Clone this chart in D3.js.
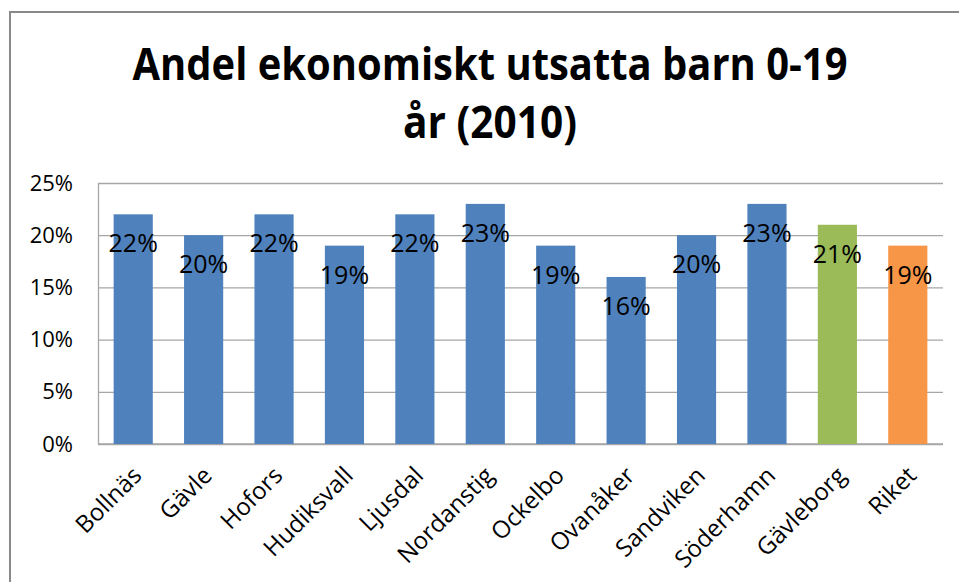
<!DOCTYPE html>
<html>
<head>
<meta charset="utf-8">
<script src="https://cdn.jsdelivr.net/npm/d3@7"></script>
<style>
  body { margin: 0; background: #fff; }
  text { font-family: "Open Sans", sans-serif; fill: #000; }
</style>
</head>
<body>
<div id="chart"></div>
<script>
//data
const categories = ["Bollnäs", "Gävle", "Hofors", "Hudiksvall", "Ljusdal", "Nordanstig",
  "Ockelbo", "Ovanåker", "Sandviken", "Söderhamn", "Gävleborg", "Riket"];
const values = [0.22, 0.20, 0.22, 0.19, 0.22, 0.23, 0.19, 0.16, 0.20, 0.23, 0.21, 0.19];
const groups = ["kommun", "kommun", "kommun", "kommun", "kommun", "kommun",
  "kommun", "kommun", "kommun", "kommun", "lan", "riket"];
const yTicks = [0, 0.05, 0.10, 0.15, 0.20, 0.25];
const titleLines = ["Andel ekonomiskt utsatta barn 0-19", "år (2010)"];

//size
const width = 959, height = 582;
const margin = { top: 183, right: 16, bottom: 138, left: 98 };
const innerWidth = width - margin.left - margin.right;
const innerHeight = height - margin.top - margin.bottom;

const color = d3.scaleOrdinal()
  .domain(["kommun", "lan", "riket"])
  .range(["#4f81bd", "#9bbb59", "#f79646"]);

//create element
const svg = d3.select("#chart").append("svg")
  .attr("width", width)
  .attr("height", height);

//frame
svg.append("rect")
  .attr("x", 10).attr("y", 12)
  .attr("width", 1000).attr("height", 1000)
  .attr("fill", "none")
  .attr("stroke", "#898989")
  .attr("stroke-width", 2);

//title
const title = svg.append("g").attr("class", "title");
title.selectAll("text")
  .data(titleLines)
  .join("text")
  .attr("x", 490)
  .attr("y", (d, i) => 80 + i * 58)
  .attr("text-anchor", "middle")
  .attr("font-family", "'Liberation Sans Narrow', 'Open Sans', sans-serif")
  .attr("font-weight", "bold")
  .attr("font-size", 44)
  .attr("textLength", (d, i) => (i === 0 ? 715 : 174))
  .attr("lengthAdjust", "spacingAndGlyphs")
  .text((d) => d);

//scales
const x = d3.scaleBand()
  .domain(categories)
  .range([0, innerWidth])
  .paddingInner(0.444)
  .paddingOuter(0.222);

const y = d3.scaleLinear()
  .domain([0, 0.25])
  .range([innerHeight, 0]);

const g = svg.append("g")
  .attr("transform", `translate(${margin.left},${margin.top})`);

//grid
g.append("g")
  .attr("class", "grid")
  .call(d3.axisLeft(y).tickValues(yTicks).tickSize(-innerWidth).tickFormat(""))
  .call((s) => s.select(".domain").remove())
  .call((s) => s.selectAll("line").attr("stroke", "#a6a6a6").attr("stroke-width", 1.3));

//y axis labels
g.append("g")
  .attr("class", "y-axis")
  .call(d3.axisLeft(y).tickValues(yTicks).tickSize(0).tickPadding(25)
    .tickFormat(d3.format(".0%")))
  .call((s) => s.select(".domain").attr("stroke", "#a6a6a6").attr("stroke-width", 1.3))
  .call((s) => s.selectAll("text")
    .attr("font-family", "'Open Sans', sans-serif")
    .attr("font-size", 22)
    .attr("fill", "#000"));

//x axis line
g.append("line")
  .attr("x1", 0).attr("x2", innerWidth)
  .attr("y1", innerHeight).attr("y2", innerHeight)
  .attr("stroke", "#a6a6a6")
  .attr("stroke-width", 1.5);

//bars
g.selectAll("rect.bar")
  .data(categories)
  .join("rect")
  .attr("class", "bar")
  .attr("x", (d) => x(d))
  .attr("y", (d, i) => y(values[i]))
  .attr("width", x.bandwidth())
  .attr("height", (d, i) => innerHeight - y(values[i]))
  .attr("fill", (d, i) => color(groups[i]));

//value labels
g.selectAll("text.value")
  .data(categories)
  .join("text")
  .attr("class", "value")
  .attr("x", (d) => x(d) + x.bandwidth() / 2)
  .attr("y", (d, i) => y(values[i]) + 38)
  .attr("text-anchor", "middle")
  .attr("font-size", 25)
  .text((d, i) => d3.format(".0%")(values[i]));

//category labels
g.selectAll("text.cat")
  .data(categories)
  .join("text")
  .attr("class", "cat")
  .attr("text-anchor", "end")
  .attr("font-size", 24)
  .attr("transform", (d) =>
    `translate(${x(d) + x.bandwidth() / 2 + 10},${innerHeight + 33}) rotate(-45)`)
  .text((d) => d);
</script>
</body>
</html>
